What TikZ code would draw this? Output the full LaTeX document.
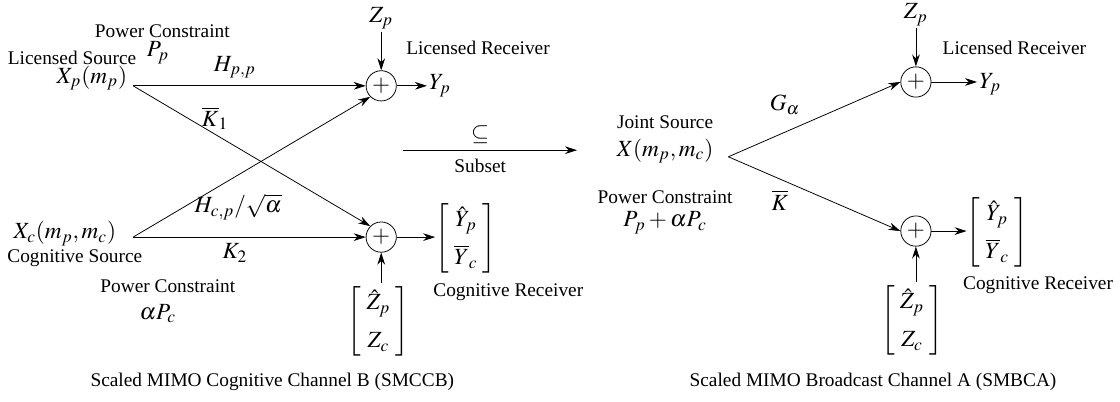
\documentclass[tikz,border=0pt]{standalone}
\usepackage{amsmath, amssymb}
\usepackage{mathptmx}
\usepackage{fontspec}
\setmainfont{Liberation Serif}
\usetikzlibrary{positioning, arrows.meta, calc}

\newcommand{\colvec}[2]{\left[\;\begin{matrix}#1\\ #2\end{matrix}\;\right]}

\begin{document}
\begin{tikzpicture}[
    >={Stealth[length=2.2mm, width=1.4mm]},
    adder/.style={draw, circle, minimum size=0.55cm, inner sep=0pt, font=\large},
    txt/.style={align=center, inner sep=1pt},
    mth/.style={inner sep=1pt, font=\large},
    chan/.style={->, thin},
    vmat/.style={inner sep=0pt, font=\large}
]

% fixed frame, same proportions as the reference
\useasboundingbox (0,0) rectangle (20.36,-7.29);

\renewcommand{\arraystretch}{1.4}

% ---------------- Scaled MIMO Cognitive Channel B ----------------
% Sources
\node[txt] (pc_top) at (2.95,-0.56) {Power Constraint};
\node[mth] (Pp) at (2.87,-0.96) {$P_p$};
\node[txt] (lic_src) at (1.31,-1.05) {Licensed Source};
\node[mth] (Xp) at (1.67,-1.42) {$X_p(m_p)$};
\coordinate (srcP) at (2.42,-1.56);

\node[mth] (Xc) at (1.18,-4.25) {$X_c(m_p,m_c)$};
\node[txt] (cog_src) at (1.36,-4.69) {Cognitive Source};
\node[txt] (pc_bot) at (3.05,-5.2) {Power Constraint};
\node[mth] (aPc) at (2.87,-5.7) {$\alpha P_c$};
\coordinate (srcC) at (2.42,-4.31);

% Receivers
\node[adder] (addP) at (6.93,-1.56) {$+$};
\node[adder] (addC) at (6.93,-4.31) {$+$};

\node[mth] (Zp) at (6.93,-0.33) {$Z_p$};
\node[mth] (Yp) at (8.0,-1.56) {$Y_p$};
\node[txt] (lic_rec) at (8.69,-0.87) {Licensed Receiver};

\node[vmat] (Zmat) at (6.88,-5.84) {$\colvec{\hat{Z}_p}{Z_c}$};
\node[vmat] (Ymat) at (8.47,-4.33) {$\colvec{\hat{Y}_p}{\overline{Y}_c}$};
\node[txt] (cog_rec) at (9.24,-5.31) {Cognitive Receiver};

% Channel gains
\draw[chan] (srcP) -- (addP.west);
\draw[chan] (srcP) -- (addC.north west);
\draw[chan] (srcC) -- (addP.south west);
\draw[chan] (srcC) -- (addC.west);
\node[mth] (Hpp) at (4.27,-1.22) {$H_{p,p}$};
\node[mth] (K1) at (3.91,-2.15) {$\overline{K}_1$};
\node[mth] (Hcp) at (4.33,-3.76) {$H_{c,p}/\sqrt{\alpha}$};
\node[mth] (K2) at (4.27,-4.6) {$K_2$};

% Noise and outputs
\draw[->] (Zp) -- (addP.north);
\draw[->] (addP.east) -- (addP.east -| Yp.west);
\draw[->] (Zmat.north -| addC.south) -- (addC.south);
\draw[->] (addC.east) -- (addC.east -| Ymat.west);

\node[txt] (cap_b) at (4.95,-6.95) {Scaled MIMO Cognitive Channel B (SMCCB)};

% ---------------- Subset arrow ----------------
\coordinate (sub_l) at (7.33,-2.73);
\coordinate (sub_r) at (10.49,-2.73);
\draw[->] (sub_l) -- (sub_r);
\node[mth] (subeq) at (8.73,-2.45) {$\subseteq$};
\node[txt] (subset) at (8.73,-3.02) {Subset};

% ---------------- Scaled MIMO Broadcast Channel A ----------------
\node[txt] (joint_src) at (12.09,-2.22) {Joint Source};
\node[mth] (Xj) at (12.09,-2.75) {$X(m_p,m_c)$};
\node[txt] (pc_joint) at (12.09,-3.58) {Power Constraint};
\node[mth] (PpaPc) at (12.09,-4.05) {$P_p+\alpha P_c$};
\coordinate (srcJ) at (13.24,-2.85);

\node[adder] (addP2) at (16.65,-1.49) {$+$};
\node[adder] (addC2) at (16.65,-4.2) {$+$};

\node[mth] (Zp2) at (16.65,-0.27) {$Z_p$};
\node[mth] (Yp2) at (18.0,-1.53) {$Y_p$};
\node[txt] (lic_rec2) at (18.44,-0.87) {Licensed Receiver};

\node[vmat] (Zmat2) at (16.58,-5.82) {$\colvec{\hat{Z}_p}{Z_c}$};
\node[vmat] (Ymat2) at (18.13,-4.22) {$\colvec{\hat{Y}_p}{\overline{Y}_c}$};
\node[txt] (cog_rec2) at (18.87,-5.18) {Cognitive Receiver};

\draw[chan] (srcJ) -- (addP2.west);
\draw[chan] (srcJ) -- (addC2.west);
\node[mth] (Ga) at (14.27,-1.91) {$G_\alpha$};
\node[mth] (Kb) at (14.18,-3.64) {$\overline{K}$};

\draw[->] (Zp2) -- (addP2.north);
\draw[->] (addP2.east) -- (addP2.east -| Yp2.west);
\draw[->] (Zmat2.north -| addC2.south) -- (addC2.south);
\draw[->] (addC2.east) -- (addC2.east -| Ymat2.west);

\node[txt] (cap_a) at (15.87,-6.95) {Scaled MIMO Broadcast Channel A (SMBCA)};

\end{tikzpicture}
\end{document}
